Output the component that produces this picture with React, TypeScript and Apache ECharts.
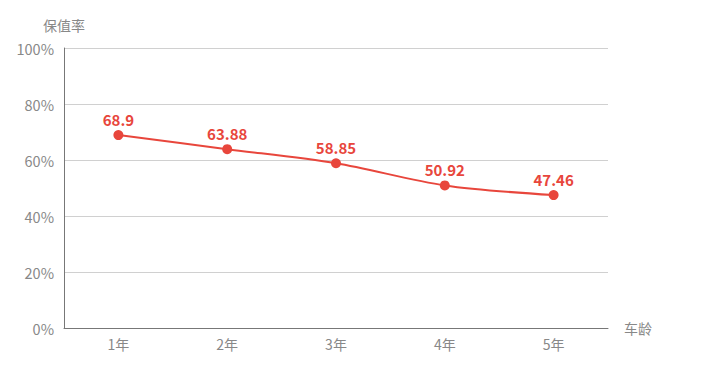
import React, { useEffect, useRef } from "react";
import * as echarts from "echarts";

const categories = ["1年", "2年", "3年", "4年", "5年"];
const values = [68.9, 63.88, 58.85, 50.92, 47.46];
const yTicks = { min: 0, max: 100, interval: 20 };

export default function App() {
  const ref = useRef<HTMLDivElement>(null);
  useEffect(() => {
    const chart = echarts.init(ref.current!, undefined, { renderer: "svg" });
    const font = "'Microsoft YaHei', 'Noto Sans CJK SC', sans-serif";
    chart.setOption({
      animation: false,
      textStyle: { fontFamily: font },
      grid: { left: 56, right: 112, top: 40, bottom: 60 },
      xAxis: {
        type: "category",
        data: categories,
        name: "车龄",
        nameGap: 16,
        nameTextStyle: { color: "#888", fontSize: 14, fontFamily: font },
        axisLine: { lineStyle: { color: "#777" } },
        axisTick: { show: false },
        axisLabel: { color: "#888", fontSize: 14, margin: 9, fontFamily: font },
      },
      yAxis: {
        type: "value",
        min: yTicks.min,
        max: yTicks.max,
        interval: yTicks.interval,
        name: "保值率",
        nameGap: 16,
        nameTextStyle: { color: "#888", fontSize: 14, fontFamily: font },
        axisLine: { show: true, lineStyle: { color: "#777" } },
        axisTick: { show: false },
        axisLabel: { color: "#888", fontSize: 14.5, formatter: "{value}%", margin: 10, fontFamily: font },
        splitLine: { lineStyle: { color: "#d0d0d0" } },
      },
      series: [
        {
          type: "line",
          data: values,
          smooth: 0.3,
          symbol: "circle",
          symbolSize: 10,
          itemStyle: { color: "#e8463c" },
          lineStyle: { color: "#e8463c", width: 2 },
          label: {
            show: true,
            position: "top",
            color: "#e8463c",
            fontWeight: "bold",
            fontSize: 15,
            distance: 3,
            fontFamily: font,
          },
        },
      ],
    });
    return () => chart.dispose();
  }, []);
  return <div ref={ref} style={{ width: 712, height: 380 }} />;
}
